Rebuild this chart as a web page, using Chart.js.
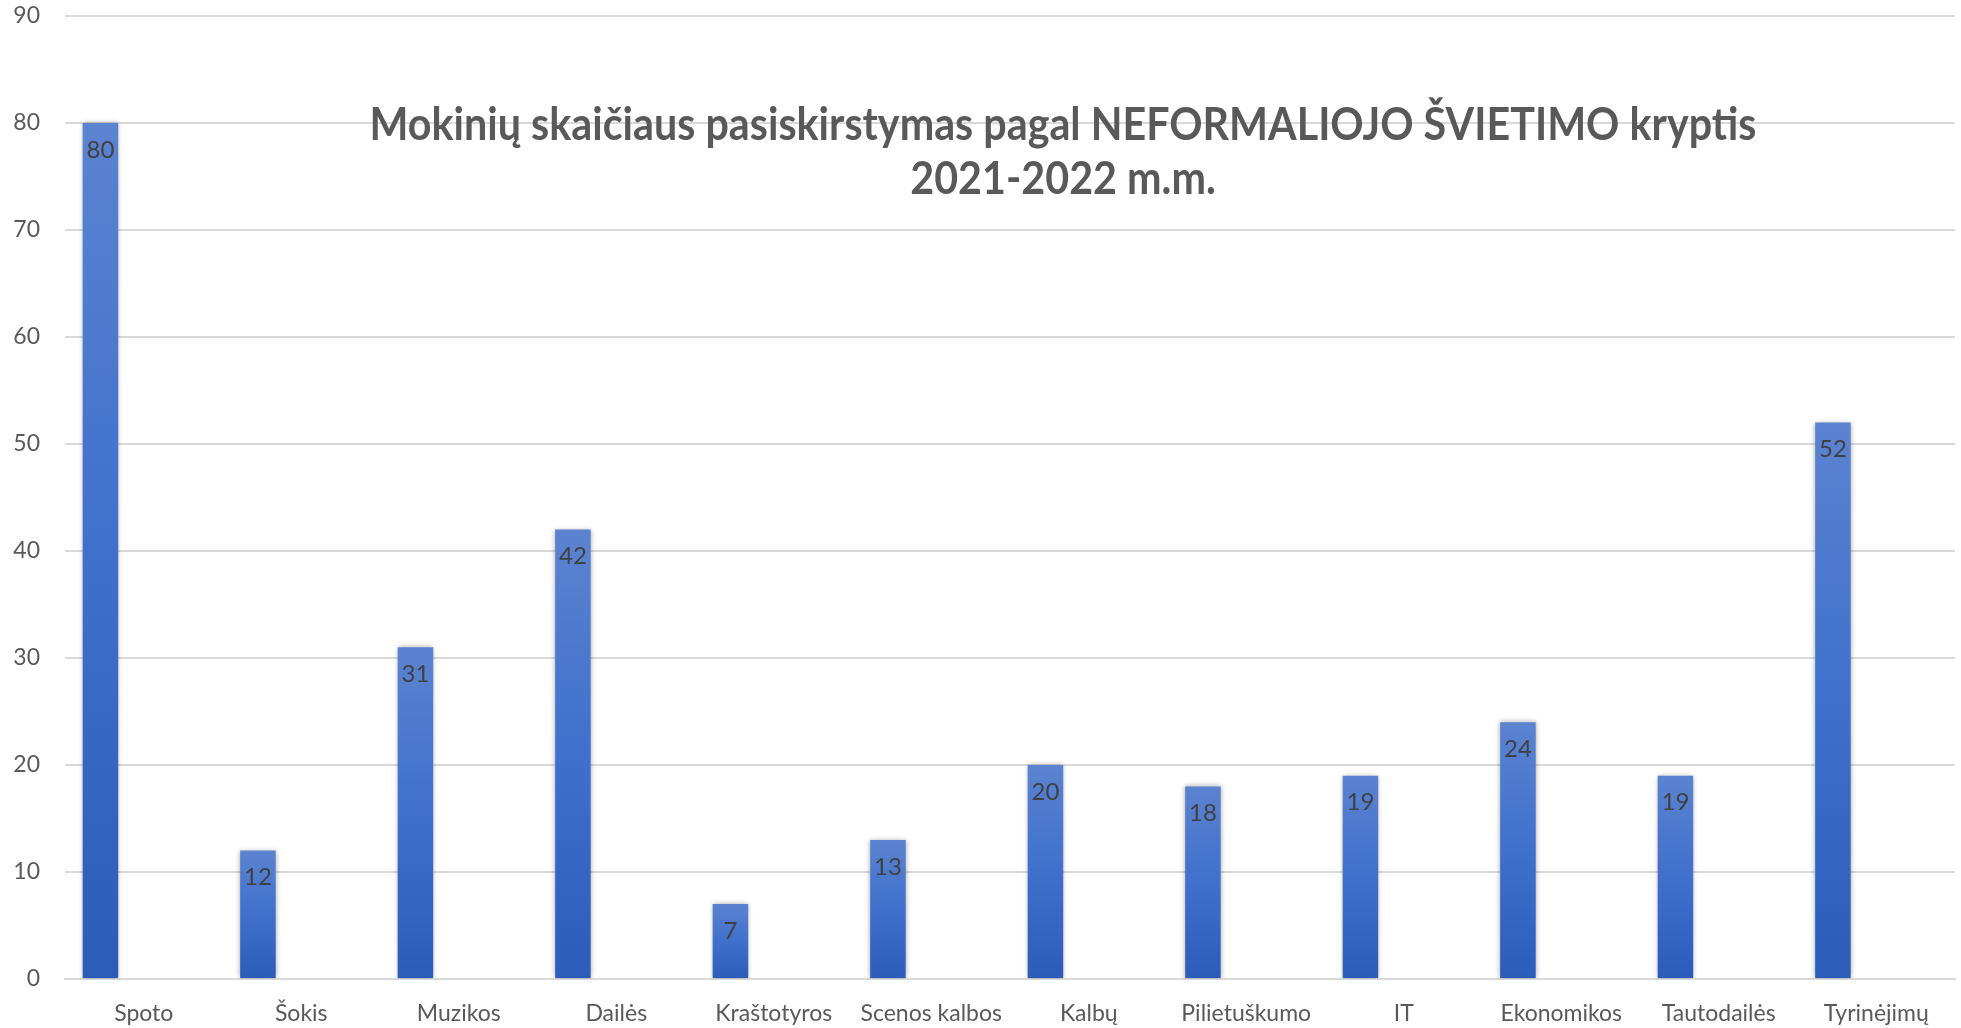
<!DOCTYPE html>
<html>
<head>
<meta charset="utf-8">
<script src="https://cdn.jsdelivr.net/npm/chart.js@4/dist/chart.umd.min.js"></script>
<style>
  html, body { margin: 0; padding: 0; background: #fff; }
  #wrap { width: 1961px; height: 1028px; }
</style>
</head>
<body>
<div id="wrap"><canvas id="chart" width="1961" height="1028"></canvas></div>
<script>
// Chart data
const categories = ['Spoto', 'Šokis', 'Muzikos', 'Dailės', 'Kraštotyros', 'Scenos kalbos',
    'Kalbų', 'Pilietuškumo', 'IT', 'Ekonomikos', 'Tautodailės', 'Tyrinėjimų'];
const studentCounts = [80, 12, 31, 42, 7, 13, 20, 18, 19, 24, 19, 52];
// the original sheet had a second, empty series next to the first one
const emptySeries = categories.map(() => null);
const titleLines = ['Mokinių skaičiaus pasiskirstymas pagal NEFORMALIOJO ŠVIETIMO kryptis', '2021-2022 m.m.'];

const fontFamily = 'Lato, "Open Sans", sans-serif';

// Vertical gradient for each bar, light at the top and darker at the base
function barGradient(context) {
    const chart = context.chart;
    const { ctx, chartArea } = chart;
    if (!chartArea || context.parsed == null) return '#3a6bc8';
    const y = chart.scales.y;
    const top = y.getPixelForValue(context.parsed.y);
    const bottom = y.getPixelForValue(0);
    if (!isFinite(top) || top === bottom) return '#3a6bc8';
    const g = ctx.createLinearGradient(0, top, 0, bottom);
    g.addColorStop(0, '#5b83d0');
    g.addColorStop(0.5, '#3f70cc');
    g.addColorStop(1, '#2c5cba');
    return g;
}

// Soft shadow around bars
const barShadow = {
    id: 'barShadow',
    beforeDatasetsDraw(chart) {
        const ctx = chart.ctx;
        ctx.save();
        ctx.shadowColor = 'rgba(0,0,0,0.35)';
        ctx.shadowBlur = 5;
    },
    afterDatasetsDraw(chart) {
        chart.ctx.restore();
    }
};

// Value labels drawn inside the top of each bar
const valueLabels = {
    id: 'valueLabels',
    afterDatasetsDraw(chart) {
        const ctx = chart.ctx;
        const meta = chart.getDatasetMeta(0);
        ctx.save();
        ctx.font = '24px ' + fontFamily;
        ctx.fillStyle = '#404040';
        ctx.textAlign = 'center';
        ctx.textBaseline = 'middle';
        meta.data.forEach((bar, i) => {
            ctx.fillText(String(studentCounts[i]), bar.x, bar.y + 27);
        });
        ctx.restore();
    }
};

// Title sits inside the plot area, like in the original (narrow bold face)
const overlayTitle = {
    id: 'overlayTitle',
    afterDraw(chart) {
        const ctx = chart.ctx;
        ctx.save();
        ctx.font = 'bold 46px ' + fontFamily;
        ctx.fillStyle = '#595959';
        ctx.textAlign = 'center';
        ctx.textBaseline = 'middle';
        const squeeze = 1387 / ctx.measureText(titleLines[0]).width;
        ctx.translate(1063, 0);
        ctx.scale(squeeze, 1);
        ctx.fillText(titleLines[0], 0, 125);
        ctx.fillText(titleLines[1], 0, 179);
        ctx.restore();
    }
};

const ctx = document.getElementById('chart').getContext('2d');
new Chart(ctx, {
    type: 'bar',
    data: {
        labels: categories,
        datasets: [{
            label: 'Mokinių skaičius',
            data: studentCounts,
            backgroundColor: barGradient,
            borderWidth: 0
        }, {
            label: '',
            data: emptySeries
        }]
    },
    options: {
        responsive: false,
        animation: false,
        categoryPercentage: 1.1,
        barPercentage: 0.41,
        layout: { padding: { top: 16, right: 6, left: 0, bottom: 0 } },
        plugins: {
            legend: { display: false },
            title: { display: false },
            tooltip: { enabled: false }
        },
        scales: {
            x: {
                afterFit(scale) { scale.height = 49; },
                grid: { display: false, drawTicks: false },
                border: { color: '#d9d9d9', width: 2 },
                ticks: {
                    color: '#595959',
                    font: { family: fontFamily, size: 23 },
                    padding: 21,
                    maxRotation: 0,
                    autoSkip: false
                }
            },
            y: {
                min: 0,
                max: 90,
                afterFit(scale) { scale.width = 65; },
                border: { display: false },
                // invisible tick marks give the gap between labels and plot
                grid: { color: '#d9d9d9', lineWidth: 2, drawTicks: true, tickLength: 25, tickColor: 'rgba(0,0,0,0)' },
                ticks: {
                    stepSize: 10,
                    color: '#595959',
                    font: { family: fontFamily, size: 23 },
                    padding: 0
                }
            }
        }
    },
    plugins: [barShadow, valueLabels, overlayTitle]
});
</script>
</body>
</html>
